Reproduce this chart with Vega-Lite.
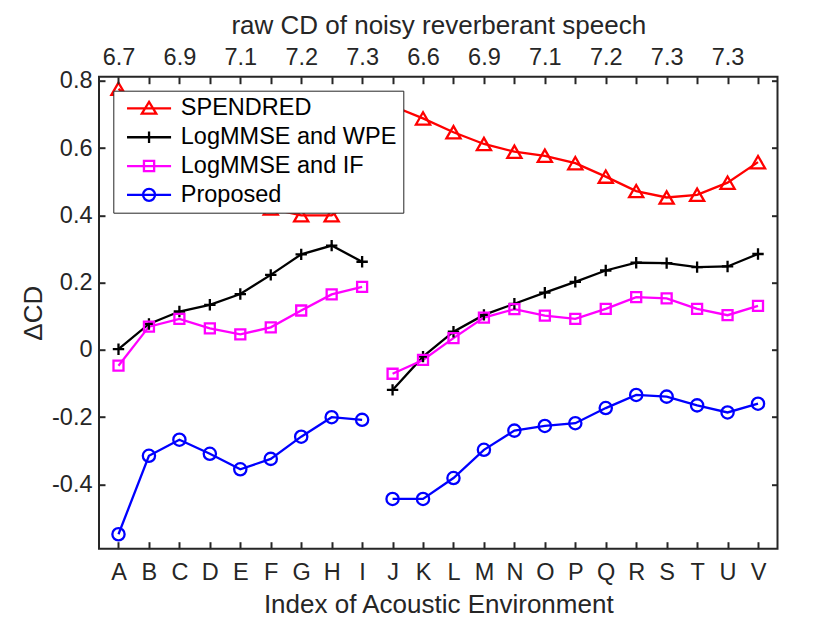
{
  "$schema": "https://vega.github.io/schema/vega-lite/v6.json",
  "width": 678.5,
  "height": 472,
  "autosize": {"type": "none"},
  "padding": {"left": 99, "top": 76.7, "right": 52.5, "bottom": 74.3},
  "data": {
    "values": [
      {"env": "A", "seg": 1, "series": "SPENDRED", "cd": 0.776},
      {"env": "B", "seg": 1, "series": "SPENDRED", "cd": 0.70},
      {"env": "C", "seg": 1, "series": "SPENDRED", "cd": 0.63},
      {"env": "D", "seg": 1, "series": "SPENDRED", "cd": 0.56},
      {"env": "E", "seg": 1, "series": "SPENDRED", "cd": 0.48},
      {"env": "F", "seg": 1, "series": "SPENDRED", "cd": 0.42},
      {"env": "G", "seg": 1, "series": "SPENDRED", "cd": 0.40},
      {"env": "H", "seg": 1, "series": "SPENDRED", "cd": 0.40},
      {"env": "I", "seg": 1, "series": "SPENDRED", "cd": 0.46},
      {"env": "J", "seg": 2, "series": "SPENDRED", "cd": 0.725},
      {"env": "K", "seg": 2, "series": "SPENDRED", "cd": 0.688},
      {"env": "L", "seg": 2, "series": "SPENDRED", "cd": 0.647},
      {"env": "M", "seg": 2, "series": "SPENDRED", "cd": 0.612},
      {"env": "N", "seg": 2, "series": "SPENDRED", "cd": 0.589},
      {"env": "O", "seg": 2, "series": "SPENDRED", "cd": 0.577},
      {"env": "P", "seg": 2, "series": "SPENDRED", "cd": 0.555},
      {"env": "Q", "seg": 2, "series": "SPENDRED", "cd": 0.515},
      {"env": "R", "seg": 2, "series": "SPENDRED", "cd": 0.472},
      {"env": "S", "seg": 2, "series": "SPENDRED", "cd": 0.453},
      {"env": "T", "seg": 2, "series": "SPENDRED", "cd": 0.461},
      {"env": "U", "seg": 2, "series": "SPENDRED", "cd": 0.497},
      {"env": "V", "seg": 2, "series": "SPENDRED", "cd": 0.558},
      {"env": "A", "seg": 1, "series": "LogMMSE and WPE", "cd": 0.002},
      {"env": "B", "seg": 1, "series": "LogMMSE and WPE", "cd": 0.077},
      {"env": "C", "seg": 1, "series": "LogMMSE and WPE", "cd": 0.114},
      {"env": "D", "seg": 1, "series": "LogMMSE and WPE", "cd": 0.134},
      {"env": "E", "seg": 1, "series": "LogMMSE and WPE", "cd": 0.166},
      {"env": "F", "seg": 1, "series": "LogMMSE and WPE", "cd": 0.223},
      {"env": "G", "seg": 1, "series": "LogMMSE and WPE", "cd": 0.284},
      {"env": "H", "seg": 1, "series": "LogMMSE and WPE", "cd": 0.310},
      {"env": "I", "seg": 1, "series": "LogMMSE and WPE", "cd": 0.262},
      {"env": "J", "seg": 2, "series": "LogMMSE and WPE", "cd": -0.119},
      {"env": "K", "seg": 2, "series": "LogMMSE and WPE", "cd": -0.020},
      {"env": "L", "seg": 2, "series": "LogMMSE and WPE", "cd": 0.054},
      {"env": "M", "seg": 2, "series": "LogMMSE and WPE", "cd": 0.104},
      {"env": "N", "seg": 2, "series": "LogMMSE and WPE", "cd": 0.137},
      {"env": "O", "seg": 2, "series": "LogMMSE and WPE", "cd": 0.170},
      {"env": "P", "seg": 2, "series": "LogMMSE and WPE", "cd": 0.202},
      {"env": "Q", "seg": 2, "series": "LogMMSE and WPE", "cd": 0.236},
      {"env": "R", "seg": 2, "series": "LogMMSE and WPE", "cd": 0.259},
      {"env": "S", "seg": 2, "series": "LogMMSE and WPE", "cd": 0.258},
      {"env": "T", "seg": 2, "series": "LogMMSE and WPE", "cd": 0.246},
      {"env": "U", "seg": 2, "series": "LogMMSE and WPE", "cd": 0.248},
      {"env": "V", "seg": 2, "series": "LogMMSE and WPE", "cd": 0.285},
      {"env": "A", "seg": 1, "series": "LogMMSE and IF", "cd": -0.047},
      {"env": "B", "seg": 1, "series": "LogMMSE and IF", "cd": 0.069},
      {"env": "C", "seg": 1, "series": "LogMMSE and IF", "cd": 0.092},
      {"env": "D", "seg": 1, "series": "LogMMSE and IF", "cd": 0.064},
      {"env": "E", "seg": 1, "series": "LogMMSE and IF", "cd": 0.046},
      {"env": "F", "seg": 1, "series": "LogMMSE and IF", "cd": 0.067},
      {"env": "G", "seg": 1, "series": "LogMMSE and IF", "cd": 0.117},
      {"env": "H", "seg": 1, "series": "LogMMSE and IF", "cd": 0.165},
      {"env": "I", "seg": 1, "series": "LogMMSE and IF", "cd": 0.187},
      {"env": "J", "seg": 2, "series": "LogMMSE and IF", "cd": -0.071},
      {"env": "K", "seg": 2, "series": "LogMMSE and IF", "cd": -0.030},
      {"env": "L", "seg": 2, "series": "LogMMSE and IF", "cd": 0.035},
      {"env": "M", "seg": 2, "series": "LogMMSE and IF", "cd": 0.096},
      {"env": "N", "seg": 2, "series": "LogMMSE and IF", "cd": 0.121},
      {"env": "O", "seg": 2, "series": "LogMMSE and IF", "cd": 0.102},
      {"env": "P", "seg": 2, "series": "LogMMSE and IF", "cd": 0.092},
      {"env": "Q", "seg": 2, "series": "LogMMSE and IF", "cd": 0.122},
      {"env": "R", "seg": 2, "series": "LogMMSE and IF", "cd": 0.157},
      {"env": "S", "seg": 2, "series": "LogMMSE and IF", "cd": 0.153},
      {"env": "T", "seg": 2, "series": "LogMMSE and IF", "cd": 0.122},
      {"env": "U", "seg": 2, "series": "LogMMSE and IF", "cd": 0.103},
      {"env": "V", "seg": 2, "series": "LogMMSE and IF", "cd": 0.131},
      {"env": "A", "seg": 1, "series": "Proposed", "cd": -0.548},
      {"env": "B", "seg": 1, "series": "Proposed", "cd": -0.315},
      {"env": "C", "seg": 1, "series": "Proposed", "cd": -0.267},
      {"env": "D", "seg": 1, "series": "Proposed", "cd": -0.309},
      {"env": "E", "seg": 1, "series": "Proposed", "cd": -0.355},
      {"env": "F", "seg": 1, "series": "Proposed", "cd": -0.324},
      {"env": "G", "seg": 1, "series": "Proposed", "cd": -0.258},
      {"env": "H", "seg": 1, "series": "Proposed", "cd": -0.200},
      {"env": "I", "seg": 1, "series": "Proposed", "cd": -0.208},
      {"env": "J", "seg": 2, "series": "Proposed", "cd": -0.443},
      {"env": "K", "seg": 2, "series": "Proposed", "cd": -0.443},
      {"env": "L", "seg": 2, "series": "Proposed", "cd": -0.381},
      {"env": "M", "seg": 2, "series": "Proposed", "cd": -0.297},
      {"env": "N", "seg": 2, "series": "Proposed", "cd": -0.240},
      {"env": "O", "seg": 2, "series": "Proposed", "cd": -0.226},
      {"env": "P", "seg": 2, "series": "Proposed", "cd": -0.218},
      {"env": "Q", "seg": 2, "series": "Proposed", "cd": -0.173},
      {"env": "R", "seg": 2, "series": "Proposed", "cd": -0.134},
      {"env": "S", "seg": 2, "series": "Proposed", "cd": -0.139},
      {"env": "T", "seg": 2, "series": "Proposed", "cd": -0.165},
      {"env": "U", "seg": 2, "series": "Proposed", "cd": -0.186},
      {"env": "V", "seg": 2, "series": "Proposed", "cd": -0.160}
    ]
  },
  "layer": [
    {
      "transform": [{"filter": "datum.series == 'SPENDRED'"}],
      "mark": {"type": "line", "strokeWidth": 2.3, "color": "#ff0000"},
      "encoding": {
        "x": {
          "field": "env",
          "type": "ordinal",
          "scale": {"type": "point", "padding": 0.64},
          "axis": {
            "orient": "bottom",
            "title": "Index of Acoustic Environment",
            "labelAngle": 0,
            "labelOverlap": false,
            "domain": false,
            "grid": false,
            "zindex": 1,
            "tickSize": -7,
            "tickColor": "#262626",
            "tickWidth": 2,
            "labelPadding": 19,
            "titleY": 63.3,
            "titleBaseline": "alphabetic"
          }
        },
        "y": {
          "field": "cd",
          "type": "quantitative",
          "scale": {"domain": [-0.591, 0.812], "nice": false, "zero": false},
          "axis": {
            "orient": "left",
            "title": "ΔCD",
            "domain": false,
            "grid": false,
            "zindex": 1,
            "values": [-0.4, -0.2, 0, 0.2, 0.4, 0.6, 0.8],
            "tickSize": -6,
            "tickColor": "#262626",
            "tickWidth": 2,
            "labelPadding": 13,
            "labelExpr": "datum.value == 0 ? '0' : (datum.value < 0 ? '-' + format(-datum.value, '.1f') : format(datum.value, '.1f'))",
            "titleX": -57.3,
            "titleBaseline": "alphabetic"
          }
        },
        "detail": {"field": "seg", "type": "nominal"}
      }
    },
    {
      "transform": [{"filter": "datum.series == 'LogMMSE and WPE'"}],
      "mark": {"type": "line", "strokeWidth": 2.3, "color": "#000000"},
      "encoding": {
        "x": {"field": "env", "type": "ordinal", "axis": null},
        "y": {"field": "cd", "type": "quantitative", "axis": null},
        "detail": {"field": "seg", "type": "nominal"}
      }
    },
    {
      "transform": [{"filter": "datum.series == 'LogMMSE and IF'"}],
      "mark": {"type": "line", "strokeWidth": 2.3, "color": "#ff00ff"},
      "encoding": {
        "x": {"field": "env", "type": "ordinal", "axis": null},
        "y": {"field": "cd", "type": "quantitative", "axis": null},
        "detail": {"field": "seg", "type": "nominal"}
      }
    },
    {
      "transform": [{"filter": "datum.series == 'Proposed'"}],
      "mark": {"type": "line", "strokeWidth": 2.3, "color": "#0000ff"},
      "encoding": {
        "x": {"field": "env", "type": "ordinal", "axis": null},
        "y": {"field": "cd", "type": "quantitative", "axis": null},
        "detail": {"field": "seg", "type": "nominal"}
      }
    },
    {
      "transform": [{"filter": "datum.series == 'SPENDRED'"}],
      "mark": {"type": "point", "shape": "triangle-up", "filled": false, "size": 200, "strokeWidth": 2.3, "color": "#ff0000", "opacity": 1},
      "encoding": {
        "x": {"field": "env", "type": "ordinal", "axis": null},
        "y": {"field": "cd", "type": "quantitative", "axis": null}
      }
    },
    {
      "transform": [{"filter": "datum.series == 'LogMMSE and WPE'"}],
      "mark": {"type": "point", "shape": "M-1,0H1M0,-1V1", "filled": false, "size": 130, "strokeWidth": 2.3, "color": "#000000", "opacity": 1},
      "encoding": {
        "x": {"field": "env", "type": "ordinal", "axis": null},
        "y": {"field": "cd", "type": "quantitative", "axis": null}
      }
    },
    {
      "transform": [{"filter": "datum.series == 'LogMMSE and IF'"}],
      "mark": {"type": "point", "shape": "square", "filled": false, "size": 100, "strokeWidth": 2.3, "color": "#ff00ff", "opacity": 1},
      "encoding": {
        "x": {"field": "env", "type": "ordinal", "axis": null},
        "y": {"field": "cd", "type": "quantitative", "axis": null}
      }
    },
    {
      "transform": [{"filter": "datum.series == 'Proposed'"}],
      "mark": {"type": "point", "shape": "circle", "filled": false, "size": 150, "strokeWidth": 2.3, "color": "#0000ff", "opacity": 1},
      "encoding": {
        "x": {"field": "env", "type": "ordinal", "axis": null},
        "y": {"field": "cd", "type": "quantitative", "axis": null}
      }
    },
    {
      "transform": [{"filter": "datum.series == 'none'"}],
      "mark": {"type": "point", "filled": false, "strokeWidth": 2.3, "opacity": 1},
      "encoding": {
        "x": {
          "field": "env",
          "type": "ordinal",
          "axis": {
            "orient": "top",
            "title": "raw CD of noisy reverberant speech",
            "labelAngle": 0,
            "labelOverlap": false,
            "grid": false,
            "domain": false,
            "zindex": 1,
            "tickSize": -7,
            "tickColor": "#262626",
            "tickWidth": 2,
            "labelPadding": 19.7,
            "labelBaseline": "alphabetic",
            "labelExpr": "['6.7','','6.9','','7.1','','7.2','','7.3','','6.6','','6.9','','7.1','','7.2','','7.3','','7.3',''][indexof('ABCDEFGHIJKLMNOPQRSTUV', datum.value)]",
            "titleY": -43.2,
            "titleBaseline": "alphabetic"
          }
        },
        "y": {
          "field": "cd",
          "type": "quantitative",
          "axis": {
            "orient": "right",
            "title": null,
            "labels": false,
            "grid": false,
            "domain": false,
            "zindex": 1,
            "values": [-0.4, -0.2, 0, 0.2, 0.4, 0.6, 0.8],
            "tickSize": -6,
            "tickColor": "#262626",
            "tickWidth": 2
          }
        },
        "color": {
          "field": "series",
          "type": "nominal",
          "scale": {
            "domain": ["SPENDRED", "LogMMSE and WPE", "LogMMSE and IF", "Proposed"],
            "range": ["#ff0000", "#000000", "#ff00ff", "#0000ff"]
          },
          "legend": {
            "title": null,
            "orient": "none",
            "legendX": 14.3,
            "legendY": 14,
            "padding": 6,
            "fillColor": "#ffffff",
            "strokeColor": "#262626",
            "symbolSize": 144,
            "symbolStrokeWidth": 2.3,
            "symbolOpacity": 1,
            "symbolOffset": 18,
            "labelOffset": 20,
            "labelFont": "Liberation Sans",
            "labelFontSize": 23.5,
            "labelColor": "#000000",
            "rowPadding": 3.8,
            "labelLimit": 400
          }
        },
        "shape": {
          "field": "series",
          "type": "nominal",
          "scale": {
            "domain": ["SPENDRED", "LogMMSE and WPE", "LogMMSE and IF", "Proposed"],
            "range": [
              "M-3.67,0H3.67M0,-1.1L1.2,0.85H-1.2Z",
              "M-3.67,0H3.67M0,-0.95V0.95",
              "M-3.67,0H3.67M-0.85,-0.85H0.85V0.85H-0.85Z",
              "M-3.67,0H3.67M-1,0A1,1 0 1,0 1,0A1,1 0 1,0 -1,0"
            ]
          },
          "legend": {
            "title": null,
            "orient": "none",
            "legendX": 14.3,
            "legendY": 14,
            "padding": 6,
            "fillColor": "#ffffff",
            "strokeColor": "#262626",
            "symbolSize": 144,
            "symbolStrokeWidth": 2.3,
            "symbolOpacity": 1,
            "symbolOffset": 18,
            "labelOffset": 20,
            "labelFont": "Liberation Sans",
            "labelFontSize": 23.5,
            "labelColor": "#000000",
            "rowPadding": 3.8,
            "labelLimit": 400
          }
        }
      }
    }
  ],
  "resolve": {"axis": {"x": "independent", "y": "independent"}},
  "config": {
    "view": {"stroke": "#262626", "strokeWidth": 2},
    "font": "Liberation Sans",
    "axis": {
      "labelColor": "#262626",
      "labelFont": "Liberation Sans",
      "labelFontSize": 23.5,
      "titleColor": "#262626",
      "titleFont": "Liberation Sans",
      "titleFontSize": 26,
      "titleFontWeight": "normal"
    }
  }
}
